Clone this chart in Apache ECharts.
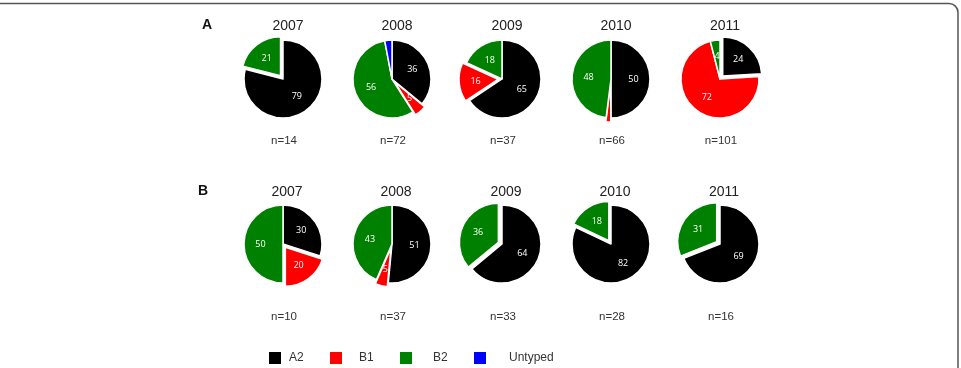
<!DOCTYPE html>
<html>
<head>
<meta charset="utf-8">
<script src="https://cdn.jsdelivr.net/npm/echarts@6/dist/echarts.min.js"></script>
<style>
  html, body { margin: 0; padding: 0; background: #fff; }
  #chart { width: 961px; height: 368px; }
</style>
</head>
<body>
<div id="chart"></div>
<script>
  // data (percent per genotype, per year)
  var years = ['2007', '2008', '2009', '2010', '2011'];
  var genotypes = ['A2', 'B1', 'B2', 'Untyped'];

  var nA = [14, 72, 37, 66, 101];
  var a2A = [79, 36, 65, 50, 24];
  var b1A = [0, 5, 16, 2, 72];
  var b2A = [21, 56, 18, 48, 4];
  var untypedA = [0, 3, 0, 0, 0];

  var nB = [10, 37, 33, 28, 16];
  var a2B = [30, 51, 64, 82, 69];
  var b1B = [20, 5, 0, 0, 0];
  var b2B = [50, 43, 36, 18, 31];
  var untypedB = [0, 0, 0, 0, 0];

  // which slice is pulled out in each pie (genotype name)
  var explodeA = ['B2', 'B1', 'B1', 'B1', 'A2'];
  var explodeB = ['B1', 'B1', 'B2', 'B2', 'B2'];

  // layout
  var colors = { A2: '#000000', B1: '#ff0000', B2: '#008000', Untyped: '#0000ff' };
  var pieX = [283, 392, 502, 611, 720];
  var rowA = { title: 22, pie: 79, n: 137 };
  var rowB = { title: 188, pie: 244, n: 313 };
  var radius = 39;

  var chart = echarts.init(document.getElementById('chart'));

  function buildPie(values, explode, cx, cy) {
    var data = [];
    genotypes.forEach(function (g, k) {
      if (values[k] > 0) {
        data.push({
          name: g,
          value: values[k],
          selected: explode === g,
          itemStyle: { color: colors[g] }
        });
      }
    });
    return {
      type: 'pie',
      center: [cx, cy],
      radius: radius,
      startAngle: 90,
      clockwise: true,
      selectedMode: 'multiple',
      selectedOffset: 4,
      silent: true,
      itemStyle: { borderColor: '#ffffff', borderWidth: 1.5 },
      label: {
        position: 'inside',
        color: '#ffffff',
        fontSize: 9,
        fontFamily: 'Open Sans',
        formatter: function (p) { return p.value >= 4 ? p.value : ''; }
      },
      labelLine: { show: false },
      emphasis: { disabled: true },
      data: data
    };
  }

  var series = [];
  var titles = [];
  var font = 'Liberation Sans';

  years.forEach(function (y, i) {
    var valsA = [a2A[i], b1A[i], b2A[i], untypedA[i]];
    var valsB = [a2B[i], b1B[i], b2B[i], untypedB[i]];
    series.push(buildPie(valsA, explodeA[i], pieX[i], rowA.pie));
    series.push(buildPie(valsB, explodeB[i], pieX[i], rowB.pie));

    titles.push({ text: y, left: pieX[i], top: rowA.title - 8, textAlign: 'center',
      textStyle: { fontFamily: font, fontSize: 14, fontWeight: 'normal', color: '#222' } });
    titles.push({ text: y, left: pieX[i] - 1, top: rowB.title - 8, textAlign: 'center',
      textStyle: { fontFamily: font, fontSize: 14, fontWeight: 'normal', color: '#222' } });
    titles.push({ text: 'n=' + nA[i], left: pieX[i] - 4, top: rowA.n - 7, textAlign: 'center',
      textStyle: { fontFamily: font, fontSize: 11.5, fontWeight: 'normal', color: '#333' } });
    titles.push({ text: 'n=' + nB[i], left: pieX[i] - 4, top: rowB.n - 7, textAlign: 'center',
      textStyle: { fontFamily: font, fontSize: 11.5, fontWeight: 'normal', color: '#333' } });
  });

  titles.push({ text: 'A', left: 202, top: rowA.title - 9, textAlign: 'center',
    textStyle: { fontFamily: font, fontSize: 14, fontWeight: 'bold', color: '#111' } });
  titles.push({ text: 'B', left: 198, top: rowB.title - 9, textAlign: 'center',
    textStyle: { fontFamily: font, fontSize: 14, fontWeight: 'bold', color: '#111' } });

  // one legend per entry so the odd spacing can be matched
  var legendX = [267, 328, 398, 472];
  var legendGap = [2, 11, 15, 17];
  var legends = genotypes.map(function (g, k) {
    return {
      data: [g],
      left: legendX[k],
      top: 350,
      icon: 'rect',
      itemWidth: 14,
      itemHeight: 14,
      selectedMode: false,
      padding: 0,
      textStyle: { fontFamily: font, fontSize: 12, color: '#333', padding: [0, 0, 0, legendGap[k]] }
    };
  });

  chart.setOption({
    animation: false,
    backgroundColor: '#ffffff',
    title: titles,
    legend: legends,
    graphic: [{
      type: 'rect',
      shape: { x: -10, y: 3.5, width: 968, height: 420, r: 9 },
      style: { fill: 'none', stroke: '#555', lineWidth: 1.5 },
      silent: true
    }],
    series: series
  });
</script>
</body>
</html>
